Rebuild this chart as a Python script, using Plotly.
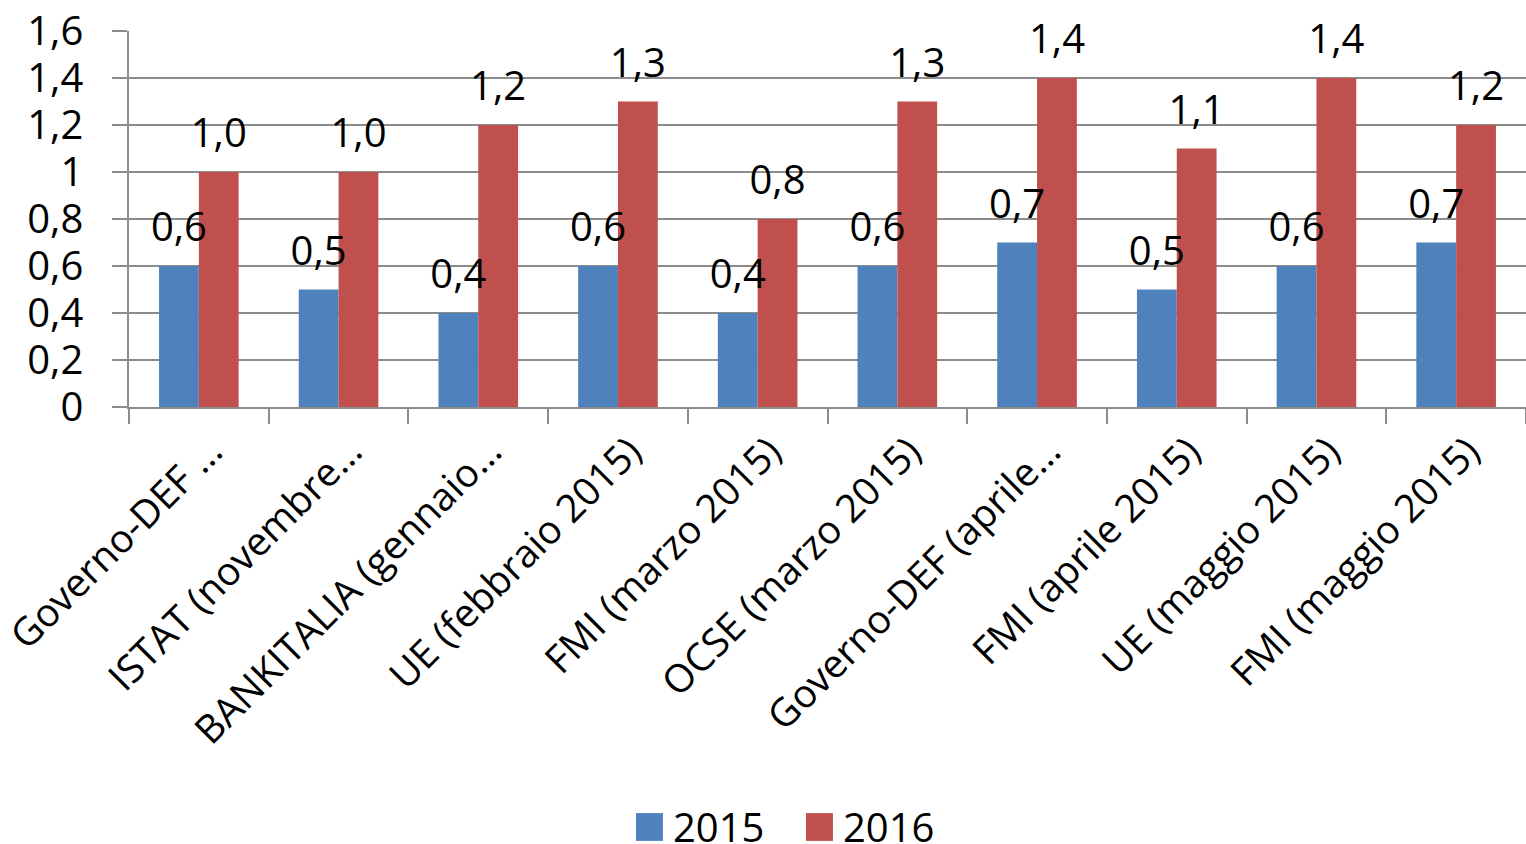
import plotly.graph_objects as go

categories = [
    "Governo-DEF …",
    "ISTAT (novembre…",
    "BANKITALIA (gennaio…",
    "UE (febbraio 2015)",
    "FMI (marzo 2015)",
    "OCSE (marzo 2015)",
    "Governo-DEF (aprile…",
    "FMI (aprile 2015)",
    "UE (maggio 2015)",
    "FMI (maggio 2015)",
]
values_2015 = [0.6, 0.5, 0.4, 0.6, 0.4, 0.6, 0.7, 0.5, 0.6, 0.7]
values_2016 = [1.0, 1.0, 1.2, 1.3, 0.8, 1.3, 1.4, 1.1, 1.4, 1.2]
series_names = ["2015", "2016"]
y_ticks = [0, 0.2, 0.4, 0.6, 0.8, 1.0, 1.2, 1.4, 1.6]

BLUE = "#4F81BD"
RED = "#C0504D"
GRID = "#8c8c8c"
FONT = "Open Sans"
BARGAP = 0.43

series = [(series_names[0], values_2015, BLUE), (series_names[1], values_2016, RED)]

fig = go.Figure()
for name, vals, col in series:
    fig.add_trace(go.Bar(
        x=categories, y=vals, name=name,
        marker=dict(color=col, line=dict(width=0)),
        showlegend=False, hoverinfo="skip",
    ))
# value labels drawn above all bars (grouped like the bars)
for name, vals, col in series:
    fig.add_trace(go.Scatter(
        x=categories, y=vals, name=name + " labels",
        mode="markers+text",
        marker=dict(size=22, color="rgba(0,0,0,0)"),
        text=[f"{v:.1f}".replace(".", ",") for v in vals],
        textposition="top center",
        textfont=dict(family=FONT, size=40, color="black"),
        showlegend=False, hoverinfo="skip", cliponaxis=False,
    ))

# legend (drawn manually to get large square keys)
legend_items = [(series_names[0], BLUE, 0.3629), (series_names[1], RED, 0.4846)]
shapes = []
annotations = []
LEG_Y0, LEG_Y1 = -1.154, -1.080  # paper units below plot
for name, col, x0 in legend_items:
    shapes.append(dict(type="rect", xref="paper", yref="paper",
                       x0=x0, x1=x0 + 0.0193, y0=LEG_Y0, y1=LEG_Y1,
                       fillcolor=col, line=dict(width=0)))
    annotations.append(dict(xref="paper", yref="paper", x=x0 + 0.0250, y=(LEG_Y0 + LEG_Y1) / 2,
                            xanchor="left", yanchor="middle", text=name, showarrow=False,
                            font=dict(family=FONT, size=40, color="black")))

fig.update_layout(
    width=1526, height=844,
    barmode="group", bargap=BARGAP, bargroupgap=0,
    scattermode="group", scattergap=BARGAP,
    separators=",.",
    plot_bgcolor="white", paper_bgcolor="white",
    margin=dict(l=129, r=0, t=31, b=437, pad=0, autoexpand=False),
    font=dict(family=FONT, size=40, color="black"),
    showlegend=False,
    shapes=shapes, annotations=annotations,
)
fig.update_xaxes(
    type="category", range=[-0.5, len(categories) - 0.5], automargin=False,
    tickangle=-45, tickson="boundaries", ticks="outside", ticklen=15,
    tickcolor=GRID, tickwidth=1.5,
    showline=True, linecolor=GRID, linewidth=1.5,
    showgrid=False, ticklabelshift=12, ticklabelstandoff=4,
    tickfont=dict(family=FONT, size=39, color="black"),
)
fig.update_yaxes(
    range=[0, 1.6], tickvals=y_ticks, ticks="outside", ticklen=15, automargin=False,
    tickcolor=GRID, tickwidth=1.5,
    showline=True, linecolor=GRID, linewidth=1.5,
    showgrid=True, gridcolor=GRID, gridwidth=1.5,
    zeroline=False, ticklabelstandoff=21,
    tickfont=dict(family=FONT, size=40, color="black"),
)

fig.write_html(
    "out.html",
    config={"displayModeBar": False},
    post_script="document.body.style.margin='0';document.body.style.overflow='hidden';",
)
